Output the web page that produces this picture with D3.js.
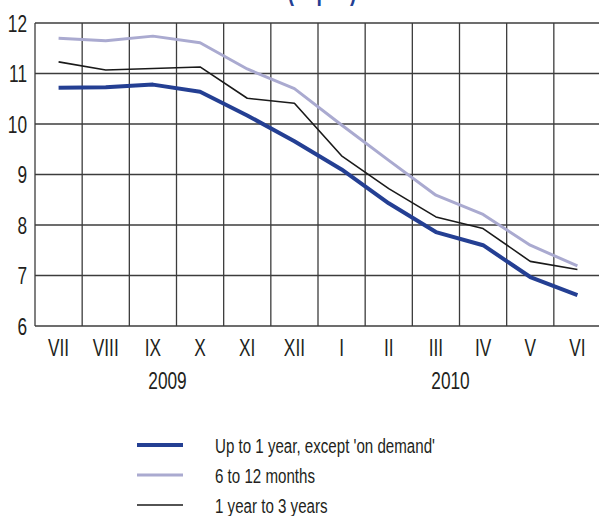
<!DOCTYPE html>
<html>
<head>
<meta charset="utf-8">
<script src="https://cdn.jsdelivr.net/npm/d3@7"></script>
<style>
  body { margin: 0; background: #fff; }
  text { font-family: "Liberation Sans", Arial, sans-serif; fill: #231f20; }
</style>
</head>
<body>
<div id="chart"></div>
<script>
var months = ["VII", "VIII", "IX", "X", "XI", "XII", "I", "II", "III", "IV", "V", "VI"];
var years = [{label: "2009", from: "VII", to: "XII"}, {label: "2010", from: "I", to: "VI"}];
var upTo1Year = [10.72, 10.73, 10.78, 10.64, 10.17, 9.66, 9.10, 8.43, 7.86, 7.60, 6.97, 6.61];
var sixTo12 = [11.70, 11.65, 11.74, 11.61, 11.09, 10.70, 9.98, 9.28, 8.59, 8.21, 7.60, 7.19];
var oneTo3 = [11.23, 11.07, 11.10, 11.13, 10.51, 10.41, 9.37, 8.72, 8.16, 7.93, 7.28, 7.12];
var yTicks = [6, 7, 8, 9, 10, 11, 12];
var seriesNames = ["Up to 1 year, except 'on demand'", "6 to 12 months", "1 year to 3 years"];

var width = 599, height = 516;
var margin = {top: 23, left: 35, right: -2, bottom: 190};
var squeeze = 0.72; // the original font is a condensed face

var series = [
  {name: seriesNames[0], values: upTo1Year, color: "#243f93", w: 4},
  {name: seriesNames[1], values: sixTo12, color: "#aaaad0", w: 3},
  {name: seriesNames[2], values: oneTo3, color: "#1a1a1a", w: 1.6}
];

var svg = d3.select("#chart").append("svg")
  .attr("width", width)
  .attr("height", height);

var x = d3.scaleBand()
  .domain(months)
  .range([margin.left, width - margin.right])
  .padding(0);

var y = d3.scaleLinear()
  .domain([6, 12])
  .range([height - margin.bottom, margin.top]);

function place(px, py) {
  return "translate(" + px + "," + py + ") scale(" + squeeze + ",1)";
}

// title, mostly cut off at the top
svg.append("text")
  .attr("transform", place(322, 0))
  .attr("text-anchor", "middle")
  .style("font-size", "27px")
  .style("font-weight", "bold")
  .style("fill", "#243f93")
  .text("(% p.a.)");

// grid
svg.append("g").selectAll("line")
  .data(yTicks)
  .enter().append("line")
  .attr("x1", margin.left)
  .attr("x2", width)
  .attr("y1", function(d) { return y(d); })
  .attr("y2", function(d) { return y(d); })
  .attr("stroke", "#3c3c3c")
  .attr("stroke-width", 1.3);

svg.append("g").selectAll("line")
  .data(months)
  .enter().append("line")
  .attr("x1", function(d) { return x(d); })
  .attr("x2", function(d) { return x(d); })
  .attr("y1", y(12))
  .attr("y2", y(6))
  .attr("stroke", "#3c3c3c")
  .attr("stroke-width", 1.3);

// axes labels
svg.append("g").selectAll("text")
  .data(yTicks)
  .enter().append("text")
  .attr("transform", function(d) { return place(27, y(d) + 8.5); })
  .attr("text-anchor", "end")
  .style("font-size", "24px")
  .text(function(d) { return d; });

svg.append("g").selectAll("text")
  .data(months)
  .enter().append("text")
  .attr("transform", function(d) { return place(x(d) + x.bandwidth() / 2, 356); })
  .attr("text-anchor", "middle")
  .style("font-size", "24px")
  .text(function(d) { return d; });

svg.append("g").selectAll("text")
  .data(years)
  .enter().append("text")
  .attr("transform", function(d) { return place((x(d.from) + x(d.to) + x.bandwidth()) / 2 - 9, 389); })
  .attr("text-anchor", "middle")
  .style("font-size", "24px")
  .text(function(d) { return d.label; });

// lines
var line = d3.line()
  .x(function(d, i) { return x(months[i]) + x.bandwidth() / 2; })
  .y(function(d) { return y(d); });

svg.append("g").selectAll("path")
  .data(series)
  .enter().append("path")
  .attr("d", function(d) { return line(d.values); })
  .attr("fill", "none")
  .attr("stroke", function(d) { return d.color; })
  .attr("stroke-width", function(d) { return d.w; })
  .attr("stroke-linejoin", "round");

// legend
var legend = svg.append("g").selectAll("g")
  .data(series)
  .enter().append("g")
  .attr("transform", function(d, i) { return "translate(0," + (445 + i * 30) + ")"; });

legend.append("line")
  .attr("x1", 137)
  .attr("x2", 183)
  .attr("stroke", function(d) { return d.color; })
  .attr("stroke-width", function(d) { return d.w; });

legend.append("text")
  .attr("transform", place(215, 7.5))
  .style("font-size", "21px")
  .text(function(d) { return d.name; });
</script>
</body>
</html>
